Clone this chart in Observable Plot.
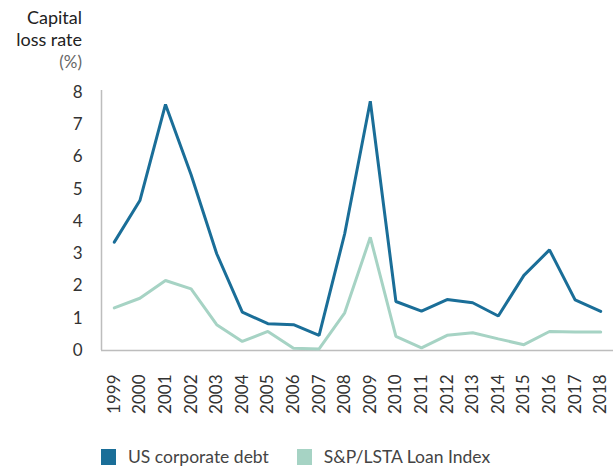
<!DOCTYPE html>
<html>
<head>
<meta charset="utf-8">
<script src="https://cdn.jsdelivr.net/npm/d3@7"></script>
<script src="https://cdn.jsdelivr.net/npm/@observablehq/plot@0.6"></script>
<style>
  body { margin: 0; background: #fff; font-family: Lato, "Open Sans", sans-serif; }
  #wrap { position: relative; width: 613px; height: 468px; overflow: hidden; }
  #chart { position: absolute; left: 0; top: 0; }
  .title { position: absolute; right: 531px; text-align: right; white-space: nowrap; color: #222; font-size: 18px; line-height: 22px; }
  #legend { position: absolute; left: 101px; top: 446px; display: flex; align-items: center; font-size: 17.5px; color: #444; }
  .sw { width: 15px; height: 16px; display: inline-block; margin-right: 12px; }
  .item { display: flex; align-items: center; margin-right: 28px; }
</style>
</head>
<body>
<div id="wrap">
  <div id="chart"></div>
  <div class="title" style="top:6px;">Capital</div>
  <div class="title" style="top:28px;">loss rate</div>
  <div class="title" style="top:51px; color:#666; font-size:17px;">(%)</div>
  <div id="legend"></div>
</div>
<script>
const years = [1999,2000,2001,2002,2003,2004,2005,2006,2007,2008,2009,2010,2011,2012,2013,2014,2015,2016,2017,2018];
const usCorporateDebt = [3.36,4.65,7.63,5.45,3.0,1.19,0.83,0.80,0.47,3.62,7.73,1.52,1.22,1.58,1.48,1.07,2.33,3.12,1.57,1.21];
const loanIndex = [1.32,1.62,2.17,1.91,0.80,0.28,0.59,0.07,0.05,1.17,3.51,0.44,0.08,0.47,0.55,0.36,0.18,0.59,0.57,0.57];
const seriesNames = ["US corporate debt", "S&P/LSTA Loan Index"];
const seriesColors = ["#1a6e98", "#a6d3c4"];
const yTicks = [0,1,2,3,4,5,6,7,8];

const rows = [];
years.forEach((y, i) => {
  rows.push({year: y, value: usCorporateDebt[i], series: seriesNames[0]});
  rows.push({year: y, value: loanIndex[i], series: seriesNames[1]});
});

const chart = Plot.plot({
  width: 613,
  height: 420,
  marginLeft: 101,
  marginRight: 0,
  marginTop: 92,
  marginBottom: 70,
  style: { fontFamily: "Lato, 'Open Sans', sans-serif", fontSize: "17px", color: "#333", background: "#fff" },
  x: { type: "linear", domain: [1998.5, 2018.5] },
  y: { domain: [0, 8] },
  color: { domain: seriesNames, range: seriesColors },
  marks: [
    Plot.axisY({ ticks: yTicks, tickSize: 0, tickPadding: 19, label: null, fontSize: 17 }),
    Plot.axisX({ ticks: years, tickFormat: d => String(d), tickRotate: -90, tickSize: 0, tickPadding: 24, label: null, fontSize: 17 }),
    Plot.ruleY([0], { stroke: "#bdbdbd", strokeWidth: 1.5 }),
    Plot.ruleX([1998.5], { y1: 0, y2: 8.06, stroke: "#bdbdbd", strokeWidth: 1.5 }),
    Plot.line(rows.filter(d => d.series === seriesNames[1]), { x: "year", y: "value", stroke: "series", strokeWidth: 3, strokeLinejoin: "miter" }),
    Plot.line(rows.filter(d => d.series === seriesNames[0]), { x: "year", y: "value", stroke: "series", strokeWidth: 3, strokeLinejoin: "miter" })
  ]
});
document.getElementById("chart").appendChild(chart);

const legend = document.getElementById("legend");
seriesNames.forEach((name, i) => {
  const item = document.createElement("div");
  item.className = "item";
  const sw = document.createElement("span");
  sw.className = "sw";
  sw.style.background = seriesColors[i];
  const t = document.createElement("span");
  t.textContent = name;
  item.appendChild(sw);
  item.appendChild(t);
  legend.appendChild(item);
});
</script>
</body>
</html>
